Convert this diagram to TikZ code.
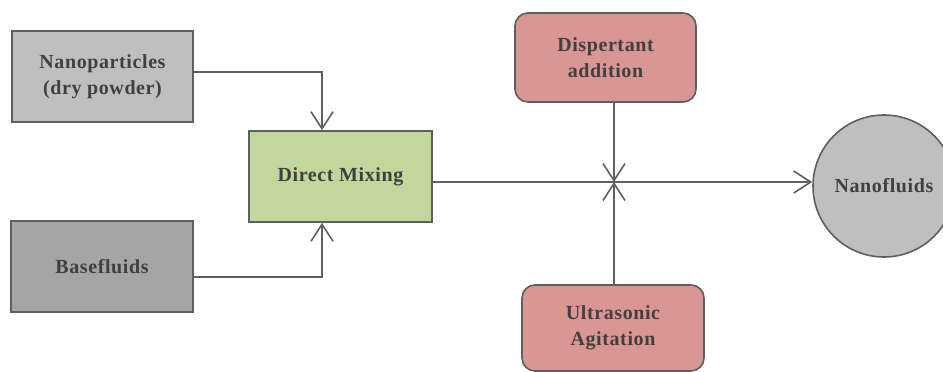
\documentclass[tikz,border=0pt]{standalone}
\usepackage{fontspec}
\setmainfont{Liberation Serif}[LetterSpace=3]
\usetikzlibrary{arrows.meta}
\definecolor{edgegray}{HTML}{5F5F5F}
\definecolor{txtgray}{HTML}{404040}
\definecolor{lightgray}{HTML}{BFBFBF}
\definecolor{darkgray}{HTML}{A5A5A5}
\definecolor{mixgreen}{HTML}{C3D69B}
\definecolor{pinkred}{HTML}{D99694}
\tikzset{
  box/.style={draw=edgegray, line width=1.6pt, align=center, text=txtgray,
    font=\fontsize{20}{26}\selectfont\bfseries, inner sep=0pt},
  rbox/.style={box, rounded corners=13pt, fill=pinkred},
  arr/.style={draw=edgegray, line width=1.6pt,
    -{Straight Barb[length=17pt,width=22pt,line width=1.6pt]}},
}
\begin{document}
\begin{tikzpicture}[x=1pt,y=-1pt]
\useasboundingbox (0,0) rectangle (943,372);
\clip (0,0) rectangle (943,372);
\node[box, fill=lightgray, minimum width=181pt, minimum height=91pt] (np) at (102.5,76.5) {Nanoparticles\\(dry powder)};
\node[box, fill=darkgray, minimum width=182pt, minimum height=91pt] (bf) at (102,266.5) {Basefluids};
\node[box, fill=mixgreen, minimum width=183pt, minimum height=91pt] (dm) at (340.5,176.5) {Direct Mixing};
\node[rbox, minimum width=181pt, minimum height=89pt] (dp) at (605.5,57.5) {Dispertant\\addition};
\node[rbox, minimum width=182pt, minimum height=86pt] (us) at (613,328) {Ultrasonic\\Agitation};
\node[box, fill=lightgray, circle, minimum size=142pt] (nf) at (884,186) {Nanofluids};
\coordinate (jn) at (614,182);
\draw[arr] ([yshift=4.5pt]np.east) -| ([xshift=-18.5pt]dm.north);
\draw[arr] ([yshift=-10.5pt]bf.east) -| ([xshift=-18.5pt]dm.south);
\draw[arr] (dm.east |- jn) -- (jn -| nf.west);
\draw[arr] (dp.south -| jn) -- (jn);
\draw[arr] (us.north -| jn) -- (jn);
\end{tikzpicture}
\end{document}
